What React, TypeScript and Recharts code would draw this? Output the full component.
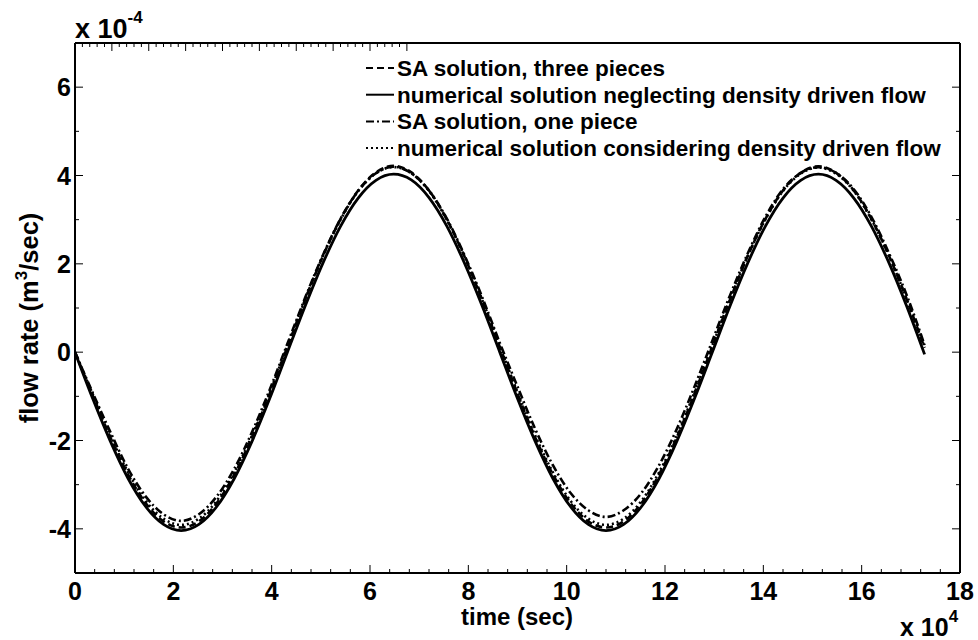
import { LineChart, Line, XAxis, YAxis, Legend, Label } from "recharts";

// time in units of 1e4 s, flow rate in units of 1e-4 m^3/sec
const TIME = [
  0, 0.36, 0.72, 1.08, 1.44, 1.8, 2.16, 2.52, 2.88, 3.24, 3.6, 3.96, 4.32, 4.68, 5.04, 5.4, 5.76,
  6.12, 6.48, 6.84, 7.2, 7.56, 7.92, 8.28, 8.64, 9.0, 9.36, 9.72, 10.08, 10.44, 10.8, 11.16, 11.52,
  11.88, 12.24, 12.6, 12.96, 13.32, 13.68, 14.04, 14.4, 14.76, 15.12, 15.48, 15.84, 16.2, 16.56,
  16.92, 17.28,
];

const SA_THREE = [
  0, -0.98, -1.93, -2.77, -3.42, -3.83, -3.97, -3.83, -3.42, -2.77, -1.93, -0.94, 0.12, 1.18, 2.17,
  3.01, 3.66, 4.07, 4.22, 4.07, 3.66, 3.01, 2.17, 1.18, 0.12, -0.94, -1.93, -2.77, -3.42, -3.83,
  -3.97, -3.83, -3.42, -2.77, -1.93, -0.94, 0.12, 1.18, 2.17, 3.01, 3.66, 4.06, 4.21, 4.06, 3.66,
  3.01, 2.17, 1.18, 0.1,
];

const NUM_NEGLECT = [
  0, -1.05, -2.02, -2.86, -3.5, -3.9, -4.04, -3.9, -3.5, -2.86, -2.02, -1.05, 0.0, 1.04, 2.01,
  2.85, 3.49, 3.89, 4.03, 3.9, 3.5, 2.86, 2.02, 1.05, 0.0, -1.05, -2.02, -2.86, -3.5, -3.9, -4.04,
  -3.9, -3.5, -2.86, -2.02, -1.05, -0.01, 1.04, 2.01, 2.85, 3.49, 3.89, 4.03, 3.89, 3.49, 2.85,
  2.01, 1.03, -0.05,
];

const SA_ONE = [
  0, -0.92, -1.81, -2.64, -3.27, -3.67, -3.82, -3.67, -3.27, -2.64, -1.81, -0.85, 0.19, 1.23, 2.19,
  3.02, 3.65, 4.05, 4.2, 4.05, 3.66, 3.03, 2.2, 1.25, 0.21, -0.78, -1.74, -2.56, -3.19, -3.58,
  -3.73, -3.58, -3.19, -2.56, -1.74, -0.78, 0.25, 1.28, 2.23, 3.06, 3.69, 4.06, 4.19, 4.06, 3.69,
  3.06, 2.23, 1.28, 0.16,
];

const NUM_DENSITY = [
  0, -0.95, -1.89, -2.72, -3.37, -3.77, -3.91, -3.77, -3.37, -2.72, -1.89, -0.91, 0.14, 1.19, 2.17,
  3.0, 3.65, 4.05, 4.19, 4.05, 3.65, 3.0, 2.17, 1.19, 0.14, -0.91, -1.89, -2.72, -3.37, -3.77,
  -3.91, -3.77, -3.37, -2.72, -1.89, -0.91, 0.14, 1.19, 2.17, 3.0, 3.65, 4.04, 4.18, 4.04, 3.65,
  3.0, 2.17, 1.19, 0.12,
];

const SERIES = [
  { key: "saThree", name: "SA solution, three pieces", dash: "7 4", width: 2.6 },
  { key: "numNeglect", name: "numerical solution neglecting density driven flow", dash: undefined, width: 2.8 },
  { key: "saOne", name: "SA solution, one piece", dash: "8 3 2 3", width: 2.6 },
  { key: "numDensity", name: "numerical solution considering density driven flow", dash: "2 3", width: 2.6 },
];

// minor ticks every 0.4 on x, every 1 on y; labels on even values
const X_TICKS = Array.from({ length: 46 }, (_, i) => Math.round(i * 4) / 10);
const Y_TICKS = Array.from({ length: 13 }, (_, i) => i - 5);

const FONT = '"Liberation Sans", Arial, sans-serif';
const AXIS_LINE = { stroke: "#000", strokeWidth: 2 };

const isMajor = (v: number) => Math.abs(v / 2 - Math.round(v / 2)) < 1e-6;

function makeTick(side: "bottom" | "top" | "left" | "right") {
  return (props: any) => {
    const { x, y, payload } = props;
    const v = payload.value as number;
    const major = isMajor(v);
    const len = major ? 8 : 4;
    if (side === "bottom") {
      return (
        <g>
          <line x1={x} x2={x} y1={y} y2={y - len} stroke="#000" strokeWidth={1} />
          {major && (
            <text x={x} y={y + 27} textAnchor="middle" fontSize={25} fontWeight="bold" fill="#000">
              {v}
            </text>
          )}
        </g>
      );
    }
    if (side === "top") {
      return <line x1={x} x2={x} y1={y} y2={y + len} stroke="#000" strokeWidth={1} />;
    }
    if (side === "left") {
      return (
        <g>
          <line x1={x} x2={x + len} y1={y} y2={y} stroke="#000" strokeWidth={1} />
          {major && (
            <text x={x - 4} y={y + 9} textAnchor="end" fontSize={25} fontWeight="bold" fill="#000">
              {v}
            </text>
          )}
        </g>
      );
    }
    return <line x1={x} x2={x - len} y1={y} y2={y} stroke="#000" strokeWidth={1} />;
  };
}

const renderLegend = () => (
  <svg width={600} height={112} style={{ display: "block" }}>
    {SERIES.map((s, i) => {
      const cy = 16 + i * 26.7;
      return (
        <g key={s.key}>
          <line x1={0} x2={28} y1={cy} y2={cy} stroke="#000" strokeWidth={2} strokeDasharray={s.dash} />
          <text x={31} y={cy + 8} fontSize={22.5} fontWeight="bold" fill="#000">
            {s.name}
          </text>
        </g>
      );
    })}
  </svg>
);

export default function App() {
  const rows = TIME.map((t, i) => ({
    t,
    saThree: SA_THREE[i],
    numNeglect: NUM_NEGLECT[i],
    saOne: SA_ONE[i],
    numDensity: NUM_DENSITY[i],
  }));

  return (
    <div style={{ position: "absolute", left: 0, top: 0, width: 978, height: 640, background: "#fff", fontFamily: FONT }}>
      <LineChart width={978} height={640} data={rows} margin={{ top: 42, right: 17, bottom: 66, left: 74 }}>
        <XAxis
          dataKey="t"
          type="number"
          domain={[0, 18]}
          ticks={X_TICKS}
          interval={0}
          height={1}
          tickSize={0}
          tickMargin={0}
          tickLine={false}
          axisLine={AXIS_LINE}
          tick={makeTick("bottom")}
          allowDataOverflow
        >
          <Label
            content={() => (
              <text x={517} y={625} textAnchor="middle" fontSize={24} fontWeight="bold" fill="#000">
                time (sec)
              </text>
            )}
          />
        </XAxis>
        <XAxis
          xAxisId="top"
          orientation="top"
          type="number"
          domain={[0, 18]}
          ticks={X_TICKS}
          interval={0}
          height={1}
          tickSize={0}
          tickMargin={0}
          tickLine={false}
          axisLine={AXIS_LINE}
          tick={makeTick("top")}
          allowDataOverflow
        />
        <YAxis
          type="number"
          domain={[-5, 7]}
          ticks={Y_TICKS}
          interval={0}
          width={1}
          tickSize={0}
          tickMargin={0}
          tickLine={false}
          axisLine={AXIS_LINE}
          tick={makeTick("left")}
          allowDataOverflow
        >
          <Label
            content={() => (
              <text transform="translate(38,318) rotate(-90)" textAnchor="middle" fontSize={25.5} fontWeight="bold" fill="#000">
                flow rate (m<tspan dy={-11} fontSize={17}>3</tspan>
                <tspan dy={11}>/sec)</tspan>
              </text>
            )}
          />
        </YAxis>
        <YAxis
          yAxisId="right"
          orientation="right"
          type="number"
          domain={[-5, 7]}
          ticks={Y_TICKS}
          interval={0}
          width={1}
          tickSize={0}
          tickMargin={0}
          tickLine={false}
          axisLine={AXIS_LINE}
          tick={makeTick("right")}
          allowDataOverflow
        />
        <Legend
          layout="horizontal"
          verticalAlign="middle"
          align="center"
          content={renderLegend}
          wrapperStyle={{ top: 52, left: 366, width: 600, height: 112 }}
        />
        {SERIES.map((s) => (
          <Line
            key={s.key}
            dataKey={s.key}
            name={s.name}
            type="monotone"
            stroke="#000"
            strokeWidth={s.width}
            strokeDasharray={s.dash}
            dot={false}
            activeDot={false}
            isAnimationActive={false}
          />
        ))}
      </LineChart>
      <svg width={978} height={640} style={{ position: "absolute", left: 0, top: 0, pointerEvents: "none" }}>
        <text x={75} y={38} fontSize={27} fontWeight="bold" fill="#000">
          x 10<tspan dy={-15} fontSize={17}>-4</tspan>
        </text>
        <text x={900} y={636} fontSize={25} fontWeight="bold" fill="#000">
          x 10<tspan dy={-14} fontSize={17}>4</tspan>
        </text>
      </svg>
    </div>
  );
}
